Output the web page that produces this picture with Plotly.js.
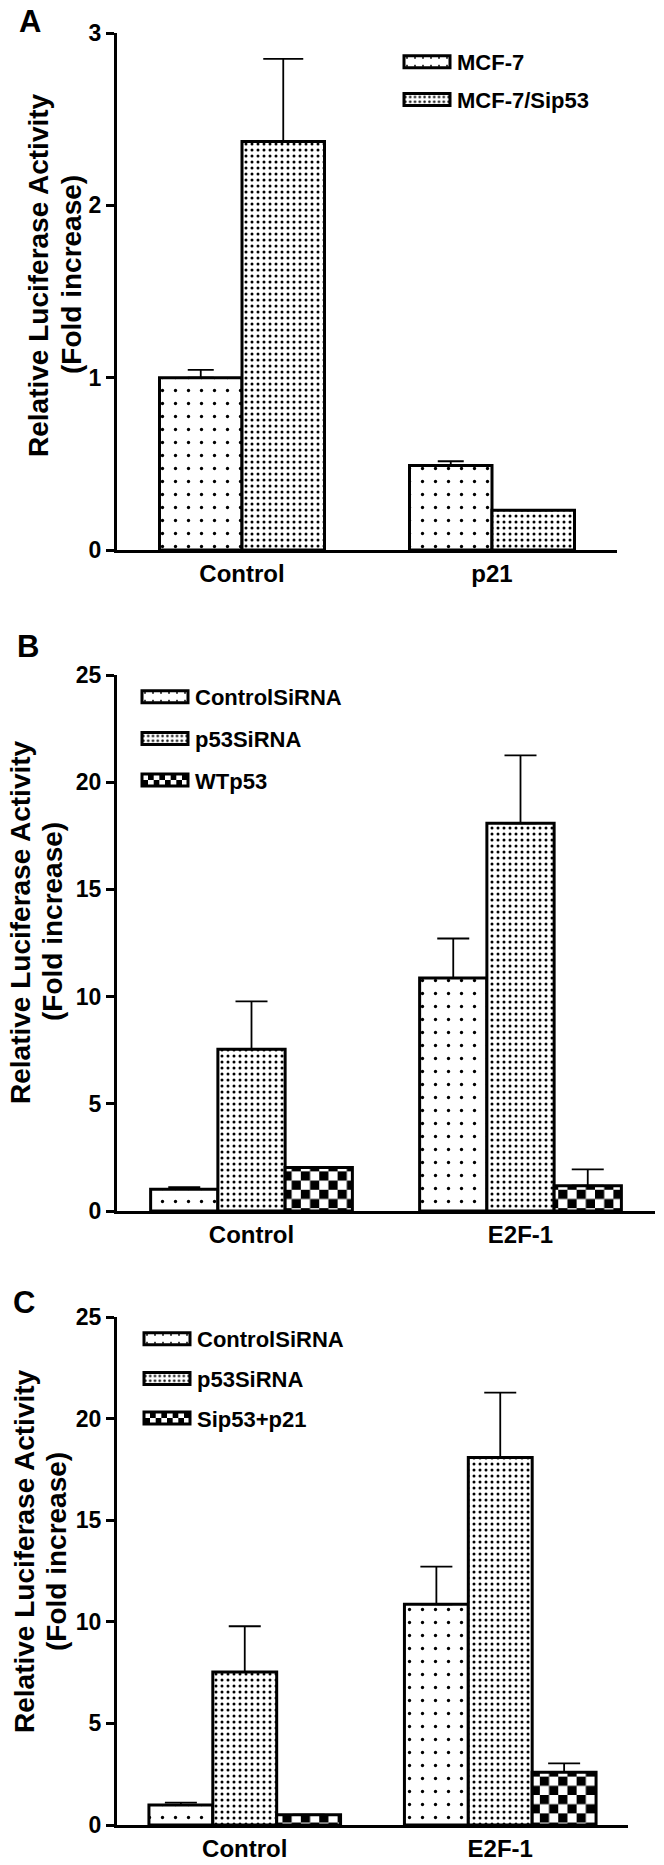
<!DOCTYPE html>
<html>
<head>
<meta charset="utf-8">
<script src="https://cdn.plot.ly/plotly-3.0.1.min.js"></script>
<style>
  html, body { margin: 0; padding: 0; background: #fff; }
  #chart { width: 664px; height: 1865px; }
</style>
</head>
<body>
<div id="chart"></div>
<script>
// ---- data ----
const groupsA = ['Control', 'p21'];
const mcf7 = [1.00, 0.49];
const mcf7Err = [0.045, 0.025];
const mcf7Sip53 = [2.37, 0.23];
const mcf7Sip53Err = [0.48, 0];

const groupsB = ['Control', 'E2F-1'];
const ctrlSiRNA_B = [1.02, 10.87];
const ctrlSiRNAErr_B = [0.09, 1.84];
const p53SiRNA_B = [7.55, 18.08];
const p53SiRNAErr_B = [2.23, 3.17];
const wtp53 = [2.03, 1.18];
const wtp53Err = [0, 0.76];

const groupsC = ['Control', 'E2F-1'];
const ctrlSiRNA_C = [0.98, 10.86];
const ctrlSiRNAErr_C = [0.12, 1.86];
const p53SiRNA_C = [7.53, 18.09];
const p53SiRNAErr_C = [2.25, 3.19];
const sip53p21 = [0.51, 2.60];
const sip53p21Err = [0, 0.43];

const yTitle1 = 'Relative Luciferase Activity';
const yTitle2 = '(Fold increase)';

// ---- page geometry (pixels) ----
const W = 664, H = 1865;
const fx = p => p / W;
const fy = p => 1 - p / H;

const frameA = { l: 117, r: 617, t: 33, b: 550 };
const frameB = { l: 117, r: 655, t: 675, b: 1211 };
const frameC = { l: 117, r: 628, t: 1317, b: 1825 };

const FONT = 'Liberation Sans, Arial, sans-serif';

const sparseDots = { shape: '.', size: 13, solidity: 0.05, fgcolor: '#000', bgcolor: '#fff' };
const denseDots = { shape: '.', size: 6, solidity: 0.2, fgcolor: '#000', bgcolor: '#fff' };
// drawn as 'x' first, swapped for a checkerboard after render
const checker = { shape: 'x', size: 13, solidity: 0.3, fgcolor: '#000', bgcolor: '#fff' };

function barTrace(name, x, y, err, pattern, offset, width, xa, ya, legend, capw) {
  return {
    type: 'bar', name, x, y, offset, width,
    xaxis: xa, yaxis: ya, legend, legendgroup: name + xa,
    marker: { color: '#fff', line: { color: '#000', width: 3 }, pattern },
    error_y: {
      type: 'data', symmetric: false, array: err, arrayminus: err.map(() => 0),
      color: '#000', thickness: 1.8, width: capw
    },
    hoverinfo: 'skip'
  };
}

const traces = [
  barTrace('MCF-7', groupsA, mcf7, mcf7Err, sparseDots, -0.33, 0.33, 'x', 'y', 'legend', 13),
  barTrace('MCF-7/Sip53', groupsA, mcf7Sip53, mcf7Sip53Err, denseDots, 0, 0.33, 'x', 'y', 'legend', 20),

  barTrace('ControlSiRNA', groupsB, ctrlSiRNA_B, ctrlSiRNAErr_B, sparseDots, -0.375, 0.25, 'x2', 'y2', 'legend2', 16),
  barTrace('p53SiRNA', groupsB, p53SiRNA_B, p53SiRNAErr_B, denseDots, -0.125, 0.25, 'x2', 'y2', 'legend2', 16),
  barTrace('WTp53', groupsB, wtp53, wtp53Err, checker, 0.125, 0.25, 'x2', 'y2', 'legend2', 16),

  barTrace('ControlSiRNA', groupsC, ctrlSiRNA_C, ctrlSiRNAErr_C, sparseDots, -0.375, 0.25, 'x3', 'y3', 'legend3', 16),
  barTrace('p53SiRNA', groupsC, p53SiRNA_C, p53SiRNAErr_C, denseDots, -0.125, 0.25, 'x3', 'y3', 'legend3', 16),
  barTrace('Sip53+p21', groupsC, sip53p21, sip53p21Err, checker, 0.125, 0.25, 'x3', 'y3', 'legend3', 16)
];

function xAxis(frame, anchor) {
  return {
    domain: [fx(frame.l), fx(frame.r)], anchor, type: 'category', range: [-0.5, 1.5],
    showline: true, linewidth: 3, linecolor: '#000', ticks: '', ticklen: 0, showgrid: false, zeroline: false,
    tickfont: { size: 24, weight: 'bold', color: '#000' }
  };
}

function yAxis(frame, anchor, max, dtick) {
  return {
    domain: [fy(frame.b), fy(frame.t)], anchor, range: [0, max], tick0: 0, dtick,
    showline: true, linewidth: 3, linecolor: '#000', showgrid: false, zeroline: false,
    ticks: 'outside', ticklen: 8, tickwidth: 3, tickcolor: '#000',
    tickfont: { size: 23, weight: 'bold', color: '#000' }
  };
}

function legendBox(left, top, gap) {
  return {
    x: fx(left), y: fy(top), xanchor: 'left', yanchor: 'top',
    bgcolor: 'rgba(0,0,0,0)', borderwidth: 0, itemwidth: 50,
    traceorder: 'grouped', tracegroupgap: gap,
    font: { size: 22, weight: 'bold', color: '#000', family: FONT }
  };
}

function letter(text, x, y) {
  return {
    text, xref: 'paper', yref: 'paper', x: fx(x), y: fy(y), showarrow: false,
    xanchor: 'center', yanchor: 'middle', font: { size: 31, weight: 'bold', color: '#000' }
  };
}

function yTitle(text, x, y) {
  return {
    text, xref: 'paper', yref: 'paper', x: fx(x), y: fy(y), showarrow: false, textangle: -90,
    xanchor: 'center', yanchor: 'middle', font: { size: 28, weight: 'bold', color: '#000' }
  };
}

const layout = {
  width: W, height: H,
  margin: { l: 0, r: 0, t: 0, b: 0 },
  paper_bgcolor: '#fff', plot_bgcolor: '#fff',
  font: { family: FONT, color: '#000' },
  barmode: 'overlay',
  xaxis: xAxis(frameA, 'y'), yaxis: yAxis(frameA, 'x', 3, 1),
  xaxis2: xAxis(frameB, 'y2'), yaxis2: yAxis(frameB, 'x2', 25, 5),
  xaxis3: xAxis(frameC, 'y3'), yaxis3: yAxis(frameC, 'x3', 25, 5),
  legend: legendBox(397, 41, 6),
  legend2: legendBox(135, 676, 10),
  legend3: legendBox(137, 1318, 8),
  annotations: [
    letter('A', 30, 22), letter('B', 28, 647), letter('C', 24, 1302),
    yTitle(yTitle1, 38, 275), yTitle(yTitle2, 71, 275),
    yTitle(yTitle1, 20, 922), yTitle(yTitle2, 52, 922),
    yTitle(yTitle1, 24, 1551), yTitle(yTitle2, 56, 1551)
  ]
};

const SVGNS = 'http://www.w3.org/2000/svg';

function makeChecker(pat) {
  const s = parseFloat(pat.getAttribute('width')) || checker.size;
  while (pat.firstChild) pat.removeChild(pat.firstChild);
  [[0, 0, s, s, '#fff'], [0, 0, s / 2, s / 2, '#000'], [s / 2, s / 2, s / 2, s / 2, '#000']]
    .forEach(([x, y, w, h, c]) => {
      const r = document.createElementNS(SVGNS, 'rect');
      r.setAttribute('x', x);
      r.setAttribute('y', y);
      r.setAttribute('width', w);
      r.setAttribute('height', h);
      r.setAttribute('fill', c);
      pat.appendChild(r);
    });
}

Plotly.newPlot('chart', traces, layout, { staticPlot: true }).then(gd => {
  gd.querySelectorAll('pattern').forEach(pat => {
    if (pat.querySelector('path')) makeChecker(pat);
  });
  // long flat legend swatches as in the original figure
  gd.querySelectorAll('.legendpoints path').forEach(p => p.setAttribute('d', 'M23,6H-23V-6H23Z'));
});
</script>
</body>
</html>
